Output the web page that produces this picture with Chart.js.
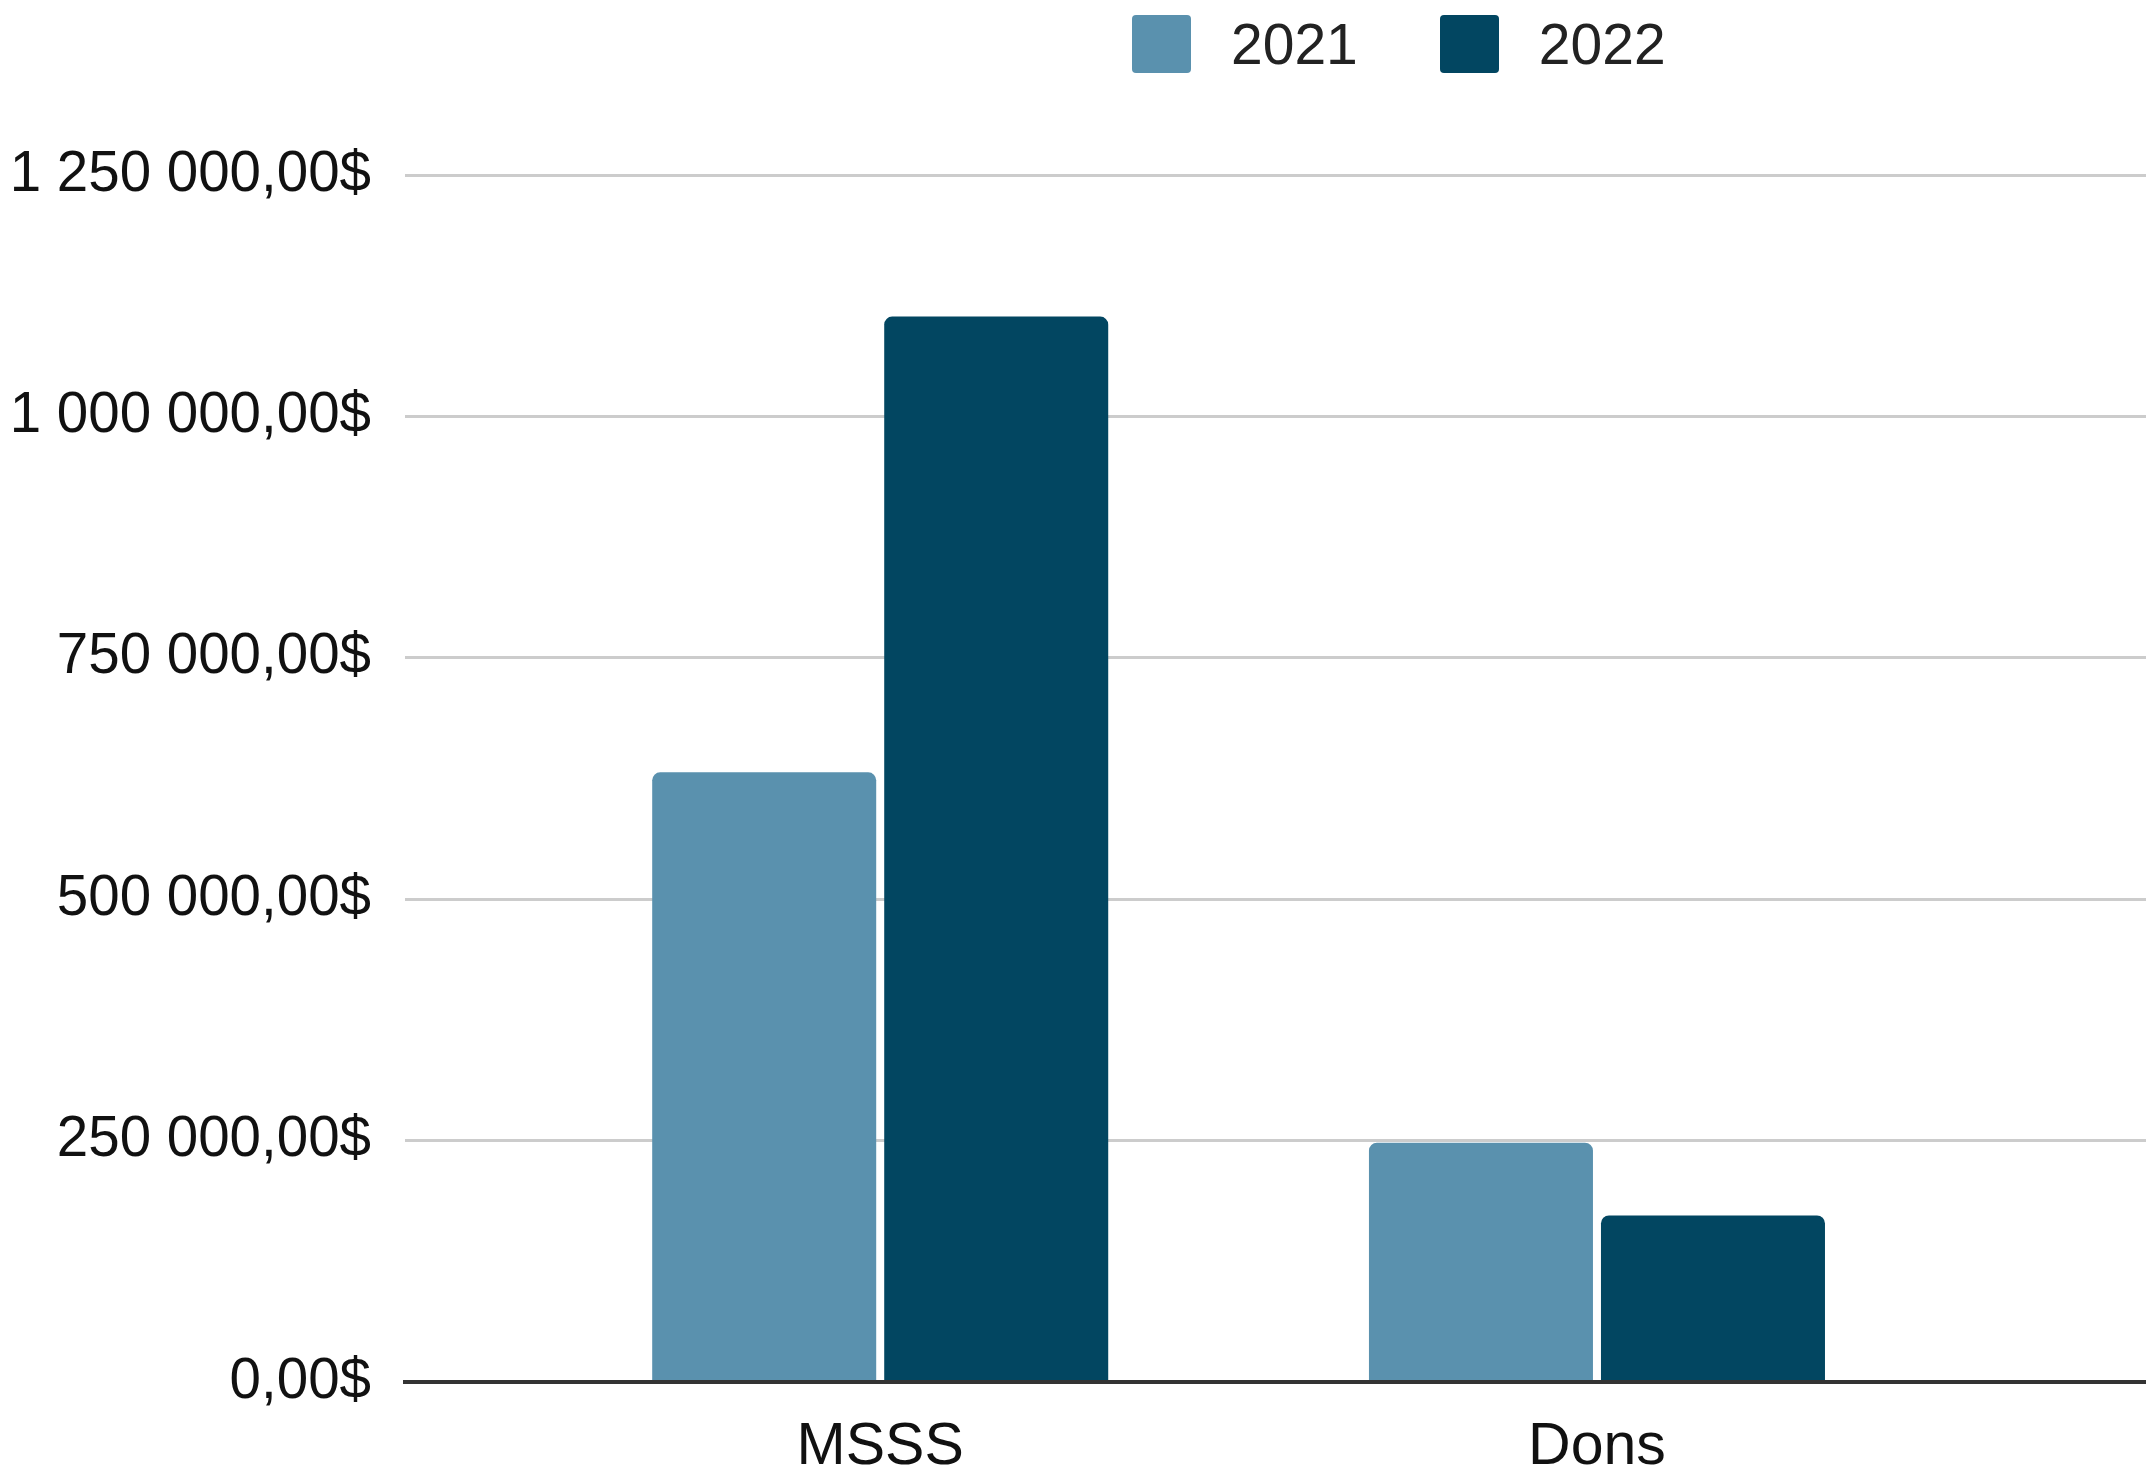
<!DOCTYPE html>
<html>
<head>
<meta charset="utf-8">
<script src="https://cdn.jsdelivr.net/npm/chart.js@4.4.1/dist/chart.umd.min.js"></script>
<style>
  html, body { margin: 0; padding: 0; background: #ffffff; }
  #wrap { position: relative; width: 2146px; height: 1477px; }
  #legend { position: absolute; left: 1132px; top: 15px; display: flex;
            font-family: "Liberation Sans", Arial, sans-serif; font-size: 57px; line-height: 58px; color: #222; }
  .lg-item { display: flex; }
  .lg-box { width: 59px; height: 58px; border-radius: 4px; }
  .lg-text { margin-left: 40px; }
</style>
</head>
<body>
<div id="wrap">
  <canvas id="c" width="2146" height="1477"></canvas>
  <div id="legend"></div>
</div>
<script>
const categories = ['MSSS', 'Dons'];
const seriesNames = ['2021', '2022'];
const seriesColors = ['#5a91ae', '#024661'];
const values2021 = [631400, 247800];
const values2022 = [1103400, 172500];
const yTickValues = [0, 250000, 500000, 750000, 1000000, 1250000];
const yTickLabels = ['0,00$', '250 000,00$', '500 000,00$', '750 000,00$', '1 000 000,00$', '1 250 000,00$'];

const FONT = '"Liberation Sans", Arial, sans-serif';
const seriesValues = [values2021, values2022];

const datasets = seriesNames.map((name, s) => ({
  label: name,
  data: categories.map((c, i) => ({ x: i, y: seriesValues[s][i] })),
  backgroundColor: seriesColors[s],
  borderWidth: 0,
  borderRadius: 8,
  borderSkipped: 'start',
  categoryPercentage: 0.6474,
  barPercentage: 0.9655
}));

new Chart(document.getElementById('c'), {
  type: 'bar',
  data: { datasets },
  options: {
    responsive: false,
    animation: false,
    layout: { padding: { top: 175, left: 0, right: 0, bottom: 0 } },
    plugins: { legend: { display: false }, tooltip: { enabled: false } },
    scales: {
      x: {
        type: 'linear',
        offset: false,
        bounds: 'data',
        min: -0.663,
        max: 1.766,
        z: 1,
        afterBuildTicks: (scale) => { scale.ticks = categories.map((c, i) => ({ value: i })); },
        afterFit: (scale) => { scale.height = 95; },
        grid: { display: false, drawTicks: false },
        border: { display: true, color: '#333333', width: 4 },
        ticks: {
          autoSkip: false,
          maxRotation: 0,
          padding: 30,
          color: '#111',
          font: { family: FONT, size: 59 },
          callback: (v) => (categories[v] !== undefined ? categories[v] : '')
        }
      },
      y: {
        min: 0,
        max: 1250000,
        afterFit: (scale) => { scale.width = 405; },
        border: { display: false },
        grid: {
          drawTicks: false,
          color: (ctx) => (ctx.tick && ctx.tick.value === 0 ? '#333333' : '#cccccc'),
          lineWidth: (ctx) => (ctx.tick && ctx.tick.value === 0 ? 4 : 3)
        },
        ticks: {
          stepSize: 250000,
          padding: 34,
          color: '#111',
          font: { family: FONT, size: 56.5 },
          callback: (v) => { const i = yTickValues.indexOf(v); return i >= 0 ? yTickLabels[i] : ''; }
        }
      }
    }
  }
});

const legend = document.getElementById('legend');
seriesNames.forEach((name, s) => {
  const item = document.createElement('div');
  item.className = 'lg-item';
  if (s > 0) item.style.marginLeft = '82px';
  const box = document.createElement('span');
  box.className = 'lg-box';
  box.style.background = seriesColors[s];
  const txt = document.createElement('span');
  txt.className = 'lg-text';
  txt.textContent = name;
  item.appendChild(box);
  item.appendChild(txt);
  legend.appendChild(item);
});
</script>
</body>
</html>
